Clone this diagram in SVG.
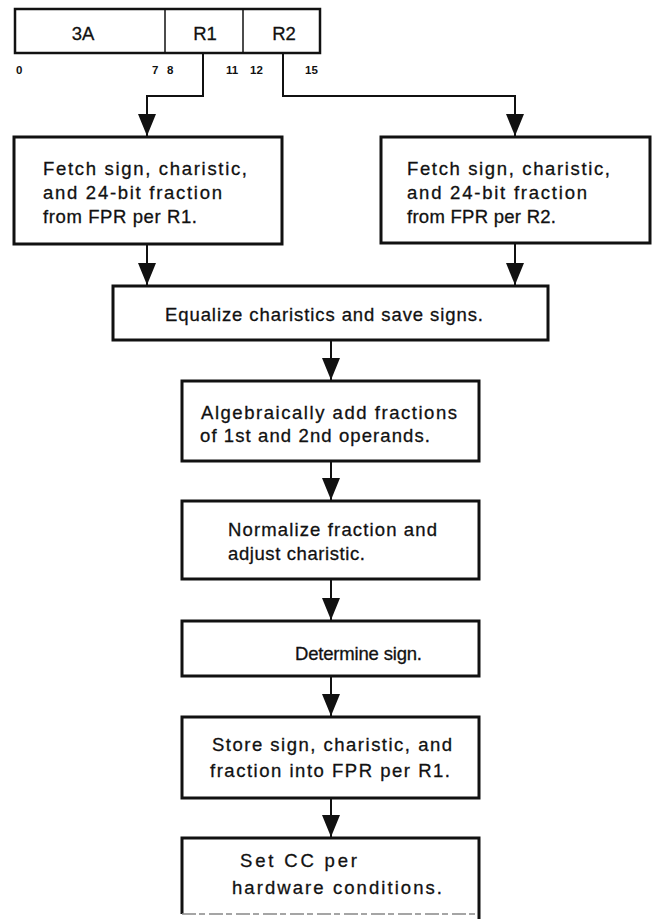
<svg xmlns="http://www.w3.org/2000/svg" width="652" height="919" viewBox="0 0 652 919">
  <style>
    .box { fill: #fff; stroke: #111; stroke-width: 3; }
    .fmt { fill: #fff; stroke: #111; stroke-width: 2.5; }
    .div { stroke: #111; stroke-width: 1.5; }
    .wire { fill: none; stroke: #111; stroke-width: 2; }
    text { font-family: "Liberation Sans", Arial, sans-serif; font-size: 18.5px; fill: #111; stroke: #111; stroke-width: 0.3; }
    .bit { font-size: 11.5px; font-weight: bold; stroke-width: 0; }
    .mid { text-anchor: middle; }
  </style>
  <defs>
    <marker id="arrow" markerUnits="userSpaceOnUse" viewBox="0 0 22 18" refX="22" refY="9" markerWidth="22" markerHeight="18" orient="auto">
      <path d="M0,0 L22,9 L0,18 Z" fill="#111"/>
    </marker>
  </defs>

  <rect width="652" height="919" fill="#fff"/>

  <!-- instruction format: op code, R1, R2 fields with bit positions -->
  <g id="rr-format">
    <rect class="fmt" x="15" y="9" width="305" height="44"/>
    <line class="div" x1="165" y1="9" x2="165" y2="53"/>
    <line class="div" x1="243" y1="9" x2="243" y2="53"/>
    <text class="mid" x="83" y="40">3A</text>
    <text class="mid" x="205" y="40">R1</text>
    <text class="mid" x="284" y="40">R2</text>
    <text class="bit" x="16" y="74">0</text>
    <text class="bit" x="152" y="74">7</text>
    <text class="bit" x="167" y="74">8</text>
    <text class="bit" x="226" y="74">11</text>
    <text class="bit" x="250" y="74">12</text>
    <text class="bit" x="305" y="74">15</text>
  </g>

  <g id="fetch-r1">
    <rect class="box" x="14" y="137" width="268" height="107"/>
    <text x="43" y="175" textLength="204" lengthAdjust="spacing">Fetch sign, charistic,</text>
    <text x="43" y="199" textLength="179" lengthAdjust="spacing">and 24-bit fraction</text>
    <text x="43" y="223" textLength="154" lengthAdjust="spacing">from FPR per R1.</text>
  </g>

  <g id="fetch-r2">
    <rect class="box" x="381" y="137" width="269" height="106"/>
    <text x="407" y="175" textLength="203" lengthAdjust="spacing">Fetch sign, charistic,</text>
    <text x="407" y="199" textLength="180" lengthAdjust="spacing">and 24-bit fraction</text>
    <text x="407" y="223" textLength="149" lengthAdjust="spacing">from FPR per R2.</text>
  </g>

  <g id="equalize">
    <rect class="box" x="113" y="286" width="435" height="54"/>
    <text x="165" y="321" textLength="318" lengthAdjust="spacing">Equalize charistics and save signs.</text>
  </g>

  <g id="add-fractions">
    <rect class="box" x="182" y="381" width="297" height="80"/>
    <text x="201" y="419" textLength="256" lengthAdjust="spacing">Algebraically add fractions</text>
    <text x="200" y="442" textLength="230" lengthAdjust="spacing">of 1st and 2nd operands.</text>
  </g>

  <g id="normalize">
    <rect class="box" x="182" y="501" width="297" height="78"/>
    <text x="228" y="536" textLength="209" lengthAdjust="spacing">Normalize fraction and</text>
    <text x="228" y="560" textLength="137" lengthAdjust="spacing">adjust charistic.</text>
  </g>

  <g id="determine-sign">
    <rect class="box" x="182" y="621" width="297" height="55"/>
    <text x="295" y="660" textLength="127" lengthAdjust="spacing">Determine sign.</text>
  </g>

  <g id="store-result">
    <rect class="box" x="182" y="717" width="297" height="81"/>
    <text x="212" y="751" textLength="240" lengthAdjust="spacing">Store sign, charistic, and</text>
    <text x="210" y="777" textLength="240" lengthAdjust="spacing">fraction into FPR per R1.</text>
  </g>

  <g id="set-cc">
    <path d="M182,914 L182,838 L479,838 L479,919" fill="#fff" stroke="#111" stroke-width="3"/>
    <line x1="182" y1="914" x2="479" y2="914" stroke="#888" stroke-width="1.5" stroke-dasharray="14 3 6 4"/>
    <text x="240" y="867" textLength="117" lengthAdjust="spacing">Set CC per</text>
    <text x="232" y="894" textLength="210" lengthAdjust="spacing">hardware conditions.</text>
  </g>

  <g id="connectors">
    <path class="wire" d="M203,53 V96 H147 V136" marker-end="url(#arrow)"/>
    <path class="wire" d="M283,53 V96 H515 V136" marker-end="url(#arrow)"/>
    <path class="wire" d="M147,244 V285" marker-end="url(#arrow)"/>
    <path class="wire" d="M515,243 V285" marker-end="url(#arrow)"/>
    <path class="wire" d="M331,340 V380" marker-end="url(#arrow)"/>
    <path class="wire" d="M331,461 V500" marker-end="url(#arrow)"/>
    <path class="wire" d="M331,579 V620" marker-end="url(#arrow)"/>
    <path class="wire" d="M331,676 V716" marker-end="url(#arrow)"/>
    <path class="wire" d="M331,798 V837" marker-end="url(#arrow)"/>
  </g>
</svg>
